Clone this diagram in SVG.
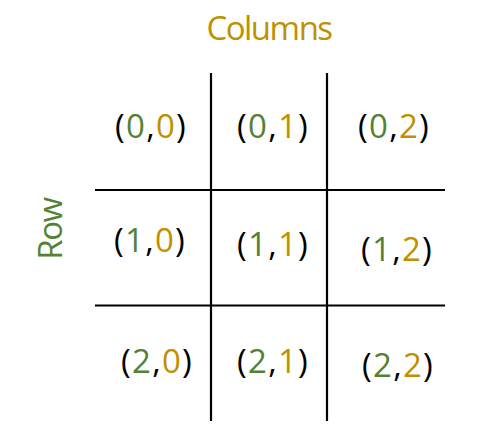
<svg xmlns="http://www.w3.org/2000/svg" width="500" height="438" viewBox="0 0 500 438">
<style>
text{font-family:"Open Sans","DejaVu Sans",sans-serif;font-size:33px;fill:#000}
.c{text-anchor:middle}
.cell{letter-spacing:1.2px}
.g{fill:#548235}
.y{fill:#BF9000}
.lbl{letter-spacing:-1.5px}
.ln{stroke:#000;stroke-width:2.2;fill:none}
</style>
<rect width="500" height="438" fill="#fff"/>
<g id="connectors">
<line class="ln" x1="211" y1="73" x2="211" y2="421"/>
<line class="ln" x1="327" y1="73" x2="327" y2="421"/>
<line class="ln" x1="95" y1="190" x2="445" y2="190"/>
<line class="ln" x1="95" y1="305.5" x2="445" y2="305.5"/>
</g>
<g id="label-columns"><text class="c y lbl" x="269" y="40">Columns</text></g>
<g id="label-row"><text class="c g lbl" transform="translate(62,229) rotate(-90)">Row</text></g>
<g id="cell-0-0"><text class="c cell" x="151" y="138">(<tspan class="g">0</tspan>,<tspan class="y">0</tspan>)</text></g>
<g id="cell-0-1"><text class="c cell" x="273" y="138">(<tspan class="g">0</tspan>,<tspan class="y">1</tspan>)</text></g>
<g id="cell-0-2"><text class="c cell" x="394" y="138">(<tspan class="g">0</tspan>,<tspan class="y">2</tspan>)</text></g>
<g id="cell-1-0"><text class="c cell" x="150" y="252">(<tspan class="g">1</tspan>,<tspan class="y">0</tspan>)</text></g>
<g id="cell-1-1"><text class="c cell" x="273" y="256">(<tspan class="g">1</tspan>,<tspan class="y">1</tspan>)</text></g>
<g id="cell-1-2"><text class="c cell" x="397" y="261">(<tspan class="g">1</tspan>,<tspan class="y">2</tspan>)</text></g>
<g id="cell-2-0"><text class="c cell" x="157" y="373">(<tspan class="g">2</tspan>,<tspan class="y">0</tspan>)</text></g>
<g id="cell-2-1"><text class="c cell" x="273" y="373">(<tspan class="g">2</tspan>,<tspan class="y">1</tspan>)</text></g>
<g id="cell-2-2"><text class="c cell" x="398" y="377">(<tspan class="g">2</tspan>,<tspan class="y">2</tspan>)</text></g>
</svg>
